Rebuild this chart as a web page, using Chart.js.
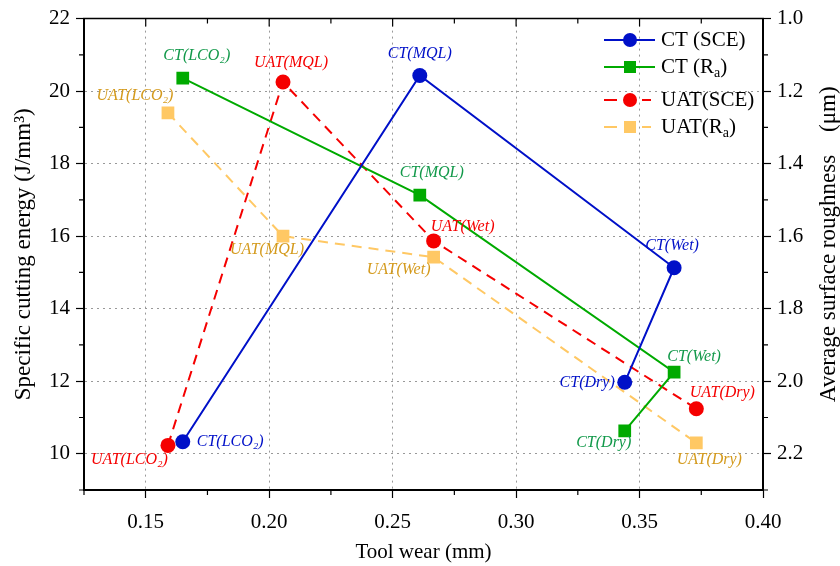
<!DOCTYPE html>
<html>
<head>
<meta charset="utf-8">
<script src="https://cdn.jsdelivr.net/npm/chart.js@4/dist/chart.umd.min.js"></script>
<style>
  html, body { margin: 0; padding: 0; background: #fff; }
  #wrap { width: 840px; height: 566px; }
</style>
</head>
<body>
<div id="wrap"><canvas id="chart" width="840" height="566"></canvas></div>
<script>
// data
const conditions = ["LCO₂", "MQL", "Wet", "Dry"];
const ctWear  = [0.165, 0.261, 0.364, 0.344];
const ctSCE   = [10.33, 20.43, 15.13, 11.97];
const ctRa    = [1.164, 1.487, 1.975, 2.137];
const uatWear = [0.159, 0.2056, 0.2666, 0.373];
const uatSCE  = [10.23, 20.25, 15.87, 11.24];
const uatRa   = [1.26, 1.60, 1.658, 2.17];

const xTicks  = [0.15, 0.20, 0.25, 0.30, 0.35, 0.40];
const yTicks  = [10, 12, 14, 16, 18, 20, 22];
const y2Ticks = [1.0, 1.2, 1.4, 1.6, 1.8, 2.0, 2.2];

const SERIF = "'Liberation Serif', 'Times New Roman', serif";
const BLUE = "#0010c8", GREEN = "#00aa00", RED = "#f50000", ORANGE = "#ffc864";

const pts = (xs, ys) => xs.map((x, i) => ({ x: x, y: ys[i] }));

// label text colour + offset (px) from the marker, per series
const labelStyle = {
    ctSCE:  { color: BLUE,      prefix: "CT",  off: [[14, 0, "left"], [0, -22, "center"], [-2, -22, "center"], [-10, 0, "right"]] },
    ctRa:   { color: "#12994a", prefix: "CT",  off: [[14, -22, "center"], [12, -22, "center"], [20, -15, "center"], [-21, 12, "center"]] },
    uatSCE: { color: RED,       prefix: "UAT", off: [[0, 14, "right"], [8, -19, "center"], [29, -14, "center"], [26, -16, "center"]] },
    uatRa:  { color: "#d49a1c", prefix: "UAT", off: [[-33, -17, "center"], [-16, 14, "center"], [-35, 13, "center"], [13, 17, "center"]] }
};

const datasets = [
    { key: "ctSCE", label: "CT (SCE)", data: pts(ctWear, ctSCE), yAxisID: "y",
      borderColor: BLUE, backgroundColor: BLUE, pointStyle: "circle", pointRadius: 7.5, borderDash: [] },
    { key: "ctRa", label: "CT (Ra)", data: pts(ctWear, ctRa), yAxisID: "y2",
      borderColor: GREEN, backgroundColor: GREEN, pointStyle: "rect", pointRadius: 9, borderDash: [] },
    { key: "uatSCE", label: "UAT(SCE)", data: pts(uatWear, uatSCE), yAxisID: "y",
      borderColor: RED, backgroundColor: RED, pointStyle: "circle", pointRadius: 7.5, borderDash: [10, 7] },
    { key: "uatRa", label: "UAT(Ra)", data: pts(uatWear, uatRa), yAxisID: "y2",
      borderColor: ORANGE, backgroundColor: ORANGE, pointStyle: "rect", pointRadius: 9, borderDash: [10, 7] }
];
datasets.forEach(d => {
    d.borderWidth = 2;
    d.pointBorderWidth = 0;
    d.pointHoverRadius = d.pointRadius;
    d.tension = 0;
    d.fill = false;
});

// extra drawing: minor ticks, top frame, point labels, legend, right title
const decorPlugin = {
    id: "decor",
    afterDraw(chart) {
        const ctx = chart.ctx;
        const a = chart.chartArea;
        const x = chart.scales.x, y = chart.scales.y, y2 = chart.scales.y2;
        ctx.save();
        ctx.strokeStyle = "#000";
        ctx.lineWidth = 1.5;

        // top frame with inward ticks
        ctx.beginPath();
        ctx.moveTo(a.left - 1, a.top); ctx.lineTo(a.right + 1, a.top);
        ctx.stroke();
        ctx.lineWidth = 1.2;
        ctx.beginPath();
        for (let v = 0.125; v <= 0.4001; v += 0.025) {
            const px = x.getPixelForValue(v);
            const major = Math.abs(v * 20 - Math.round(v * 20)) < 1e-6;
            ctx.moveTo(px, a.top); ctx.lineTo(px, a.top + (major ? 8 : 5));
            if (!major) { ctx.moveTo(px, a.bottom); ctx.lineTo(px, a.bottom + 5); }
        }
        for (let v = 9; v <= 21; v += 2) {
            const py = y.getPixelForValue(v);
            ctx.moveTo(a.left, py); ctx.lineTo(a.left - 5, py);
        }
        for (let v = 1.1; v <= 2.31; v += 0.2) {
            const py = y2.getPixelForValue(v);
            ctx.moveTo(a.right, py); ctx.lineTo(a.right + 5, py);
        }
        ctx.stroke();

        // point labels
        ctx.font = "italic 16px " + SERIF;
        ctx.textBaseline = "middle";
        chart.data.datasets.forEach((ds, di) => {
            const st = labelStyle[ds.key];
            const meta = chart.getDatasetMeta(di);
            ctx.fillStyle = st.color;
            meta.data.forEach((el, i) => {
                const o = st.off[i];
                ctx.textAlign = o[2];
                ctx.fillText(st.prefix + "(" + conditions[i] + ")", el.x + o[0], el.y + o[1]);
            });
        });

        // legend
        const rows = [40, 67, 100, 127];
        chart.data.datasets.forEach((ds, di) => {
            const ry = rows[di];
            ctx.strokeStyle = ds.borderColor;
            ctx.lineWidth = 2;
            ctx.beginPath();
            if (ds.borderDash.length) {
                ctx.moveTo(604, ry); ctx.lineTo(617, ry);
                ctx.moveTo(642, ry); ctx.lineTo(651, ry);
            } else {
                ctx.moveTo(604, ry); ctx.lineTo(655, ry);
            }
            ctx.stroke();
            ctx.fillStyle = ds.backgroundColor;
            Chart.helpers.drawPoint(ctx, { pointStyle: ds.pointStyle, radius: ds.pointStyle === "rect" ? 8.5 : 7, rotation: 0, borderWidth: 0 }, 630, ry);
            ctx.fillStyle = "#000";
            ctx.textAlign = "left";
            ctx.textBaseline = "middle";
            ctx.font = "21px " + SERIF;
            const txt = ds.label;
            if (txt.endsWith("(Ra)")) {
                const head = txt.slice(0, -2);
                ctx.fillText(head, 661, ry);
                let w = ctx.measureText(head).width;
                ctx.font = "14px " + SERIF;
                ctx.fillText("a", 661 + w, ry + 6);
                w += ctx.measureText("a").width;
                ctx.font = "21px " + SERIF;
                ctx.fillText(")", 661 + w, ry);
            } else {
                ctx.fillText(txt, 661, ry);
            }
        });

        // right axis title, reading bottom to top
        ctx.translate(829, (a.top + a.bottom) / 2 - 10);
        ctx.rotate(-Math.PI / 2);
        ctx.textAlign = "center";
        ctx.textBaseline = "middle";
        ctx.fillStyle = "#000";
        ctx.font = "23px " + SERIF;
        ctx.fillText("Average surface roughness    (μm)", 0, 0);
        ctx.restore();
    }
};

const tickFont = { family: SERIF, size: 21 };

new Chart(document.getElementById("chart"), {
    type: "line",
    data: { datasets: datasets },
    plugins: [decorPlugin],
    options: {
        responsive: false,
        animation: false,
        devicePixelRatio: 1,
        layout: { padding: { top: 17, left: 0, right: 0, bottom: 0 } },
        plugins: { legend: { display: false }, tooltip: { enabled: false } },
        scales: {
            x: {
                type: "linear", position: "bottom", min: 0.125, max: 0.4,
                afterFit: s => { s.height = 76; },
                afterBuildTicks: s => { s.ticks = xTicks.map(v => ({ value: v })); },
                ticks: { font: tickFont, color: "#000", padding: 12, maxRotation: 0,
                         callback: v => Number(v).toFixed(2) },
                grid: { color: "#999", tickColor: "#000", tickLength: 8, tickWidth: 1.2, lineWidth: 1 },
                border: { display: true, color: "#000", width: 2, dash: [2, 4] },
                title: { display: true, text: "Tool wear (mm)", font: { family: SERIF, size: 21 }, color: "#000", padding: { top: 0, bottom: 1 } }
            },
            y: {
                type: "linear", position: "left", min: 9, max: 22,
                afterFit: s => { s.width = 84; },
                afterBuildTicks: s => { s.ticks = yTicks.map(v => ({ value: v })); },
                ticks: { font: tickFont, color: "#000", padding: 6 },
                grid: { color: "#999", tickColor: "#000", tickLength: 8, tickWidth: 1.2, lineWidth: 1 },
                border: { display: true, color: "#000", width: 2, dash: [2, 4] },
                title: { display: true, text: "Specific cutting energy (J/mm³)", font: { family: SERIF, size: 23 }, color: "#000", padding: { top: 10, bottom: 0 } }
            },
            y2: {
                type: "linear", position: "right", min: 1.0, max: 2.3, reverse: true,
                afterFit: s => { s.width = 77; },
                afterBuildTicks: s => { s.ticks = y2Ticks.map(v => ({ value: v })); },
                ticks: { font: tickFont, color: "#000", padding: 6, callback: v => Number(v).toFixed(1) },
                grid: { drawOnChartArea: false, tickColor: "#000", tickLength: 8, tickWidth: 1.2 },
                border: { display: true, color: "#000", width: 2 }
            }
        }
    }
});
</script>
</body>
</html>
